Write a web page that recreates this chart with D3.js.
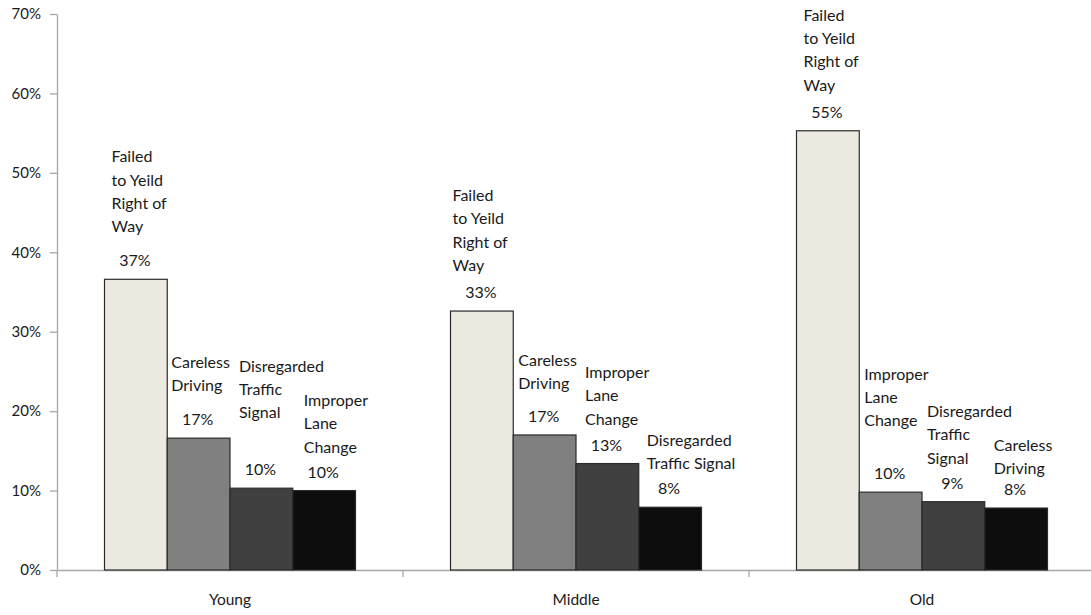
<!DOCTYPE html>
<html>
<head>
<meta charset="utf-8">
<script src="https://cdn.jsdelivr.net/npm/d3@7"></script>
<style>
  html, body { margin: 0; padding: 0; background: #fff; }
  svg { display: block; }
  text { font-family: Lato, "Open Sans", sans-serif; fill: #1a1a1a; }
</style>
</head>
<body>
<svg id="chart" width="1091" height="615"></svg>
<script>
// ---- data ----
const categories = ["Young", "Middle", "Old"];
const causesYoung  = [["Failed","to Yeild","Right of","Way"], ["Careless","Driving"], ["Disregarded","Traffic","Signal"], ["Improper","Lane","Change"]];
const causesMiddle = [["Failed","to Yeild","Right of","Way"], ["Careless","Driving"], ["Improper","Lane","Change"], ["Disregarded","Traffic Signal"]];
const causesOld    = [["Failed","to Yeild","Right of","Way"], ["Improper","Lane","Change"], ["Disregarded","Traffic","Signal"], ["Careless","Driving"]];
const valuesYoung  = [0.366, 0.166, 0.103, 0.100];
const valuesMiddle = [0.326, 0.170, 0.134, 0.079];
const valuesOld    = [0.553, 0.098, 0.086, 0.078];
const yTicks = [0, 0.1, 0.2, 0.3, 0.4, 0.5, 0.6, 0.7];

// ---- label layout (manual placement as in source) ----
const labelDx = [[7,4,9,11],[2,5,9,8],[7,5,5,9]];
const labelGap = [[34,34,57,25],[27,33,26,25],[27,53,25,21]];
const rankColors = ["#ECE9E0", "#808080", "#404040", "#0D0D0D"];

const causes = [causesYoung, causesMiddle, causesOld];
const values = [valuesYoung, valuesMiddle, valuesOld];

const svg = d3.select("#chart");
const x0 = d3.scaleBand().domain(categories).range([57, 1095]).paddingInner(0).paddingOuter(0);
const x1 = d3.scaleBand().domain([0,1,2,3]).range([47.5, x0.bandwidth() - 47.5]).padding(0);
const y = d3.scaleLinear().domain([0, 0.7]).range([570, 14]);
const fmt = d3.format(".0%");
const axisColor = "#a6a6a6";

// y axis
const yAxis = svg.append("g").attr("transform", "translate(57,0)")
  .call(d3.axisLeft(y).tickValues(yTicks).tickFormat(fmt).tickSizeInner(7).tickSizeOuter(0).tickPadding(9));
yAxis.select(".domain").attr("stroke", axisColor).attr("stroke-width", 1.3);
yAxis.selectAll(".tick line").attr("stroke", axisColor).attr("stroke-width", 1.3);
yAxis.selectAll(".tick text").attr("font-size", 15).attr("font-family", "Lato").attr("fill", "#1a1a1a");

// x axis
const xAxis = svg.append("g").attr("transform", "translate(0,570)")
  .call(d3.axisBottom(x0).tickSize(0).tickPadding(24));
xAxis.select(".domain").attr("stroke", axisColor).attr("stroke-width", 1.5);
xAxis.selectAll(".tick text").attr("font-size", 15.5).attr("font-family", "Lato").attr("fill", "#1a1a1a");
// category separator ticks
svg.append("g").selectAll("line")
  .data(categories.map((c) => x0(c)))
  .join("line")
  .attr("x1", d => d).attr("x2", d => d)
  .attr("y1", 570).attr("y2", 577)
  .attr("stroke", axisColor).attr("stroke-width", 1.3);

// bars
const groups = svg.append("g").selectAll("g")
  .data(categories)
  .join("g")
  .attr("transform", c => `translate(${x0(c)},0)`);

groups.each(function(c, ci) {
  const g = d3.select(this);
  const rows = values[ci].map((v, i) => ({ v, i, lines: causes[ci][i] }));
  g.selectAll("rect").data(rows).join("rect")
    .attr("x", d => x1(d.i))
    .attr("y", d => y(d.v))
    .attr("width", x1.bandwidth())
    .attr("height", d => y(0) - y(d.v))
    .attr("fill", d => rankColors[d.i])
    .attr("stroke", "#2b2b2b")
    .attr("stroke-width", 1.2);

  // percent labels
  g.selectAll("text.pct").data(rows).join("text")
    .attr("class", "pct")
    .attr("x", d => x1(d.i) + x1.bandwidth() / 2 - 1)
    .attr("y", d => y(d.v) - 13)
    .attr("text-anchor", "middle")
    .attr("font-size", 16)
    .text(d => fmt(d.v));

  // cause labels
  g.selectAll("text.cause").data(rows).join("text")
    .attr("class", "cause")
    .attr("font-size", 16)
    .each(function(d) {
      const t = d3.select(this);
      const n = d.lines.length;
      const lastY = y(d.v) - 13 - labelGap[ci][d.i];
      d.lines.forEach((ln, k) => {
        t.append("tspan")
          .attr("x", x1(d.i) + labelDx[ci][d.i])
          .attr("y", lastY - (n - 1 - k) * 23.3)
          .text(ln);
      });
    });
});
</script>
</body>
</html>
